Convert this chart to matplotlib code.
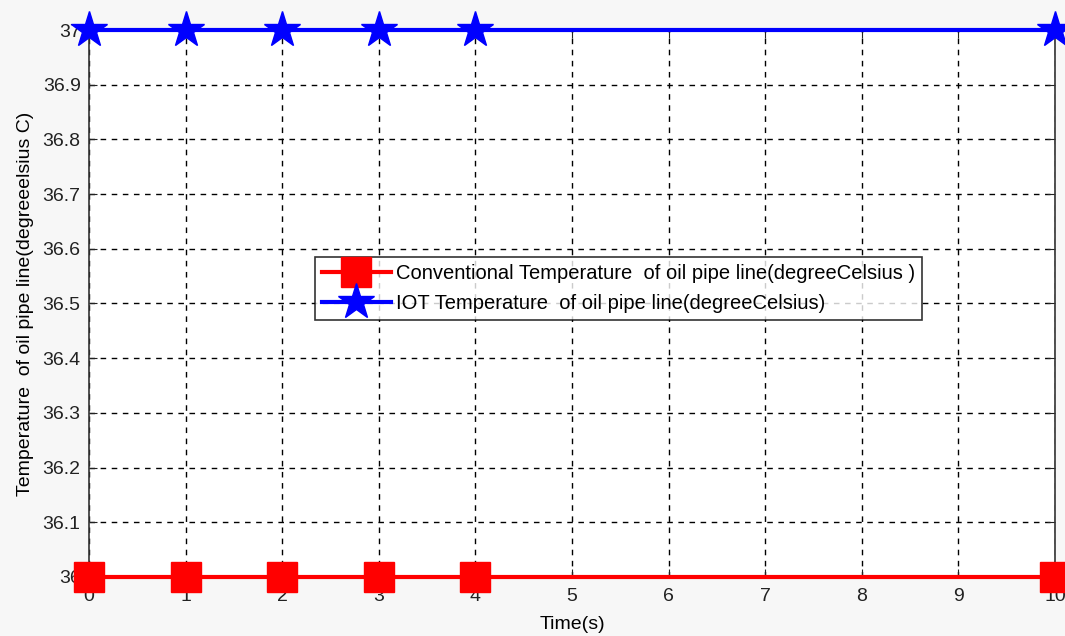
import matplotlib.pyplot as plt
import numpy as np

plt.rcParams['font.family'] = ['Liberation Sans', 'DejaVu Sans']

# data
timeS = [0, 1, 2, 3, 4, 10]
convTemp = [36, 36, 36, 36, 36, 36]
iotTemp = [37, 37, 37, 37, 37, 37]
xTicks = list(range(0, 11))
yTicks = [36, 36.1, 36.2, 36.3, 36.4, 36.5, 36.6, 36.7, 36.8, 36.9, 37]
yTickLabels = ['36', '36.1', '36.2', '36.3', '36.4', '36.5', '36.6', '36.7', '36.8', '36.9', '37']

fig = plt.figure(figsize=(10.65, 6.36), dpi=100, facecolor='#f7f7f7')
ax = fig.add_axes([0.0836, 0.0928, 0.907, 0.86])
ax.set_facecolor('white')

ax.plot(timeS, convTemp, color='red', linewidth=3, marker='s', markersize=21,
        label='Conventional Temperature  of oil pipe line(degreeCelsius )', clip_on=False, zorder=5)
ax.plot(timeS, iotTemp, color='blue', linewidth=3, marker='*', markersize=27,
        label='IOT Temperature  of oil pipe line(degreeCelsius)', clip_on=False, zorder=5)

ax.set_xlim(0, 10)
ax.set_ylim(36, 37)
ax.set_xticks(xTicks)
ax.set_yticks(yTicks)
ax.set_yticklabels(yTickLabels)
ax.tick_params(direction='in', length=6, labelsize=14, colors='#222222', top=True, right=True)
ax.tick_params(axis='x', pad=8)
ax.tick_params(axis='y', pad=6)
ax.grid(True, color='black', linestyle=(0, (4, 4)), linewidth=1)
for s in ax.spines.values():
    s.set_color('#333333')
    s.set_linewidth(1.2)

ax.set_xlabel('Time(s)', fontsize=14, labelpad=8)
ax.set_ylabel('Temperature  of oil pipe line(degreeelsius C)', fontsize=14, labelpad=6)

leg = ax.legend(loc='upper left', bbox_to_anchor=(0.234, 0.585), fontsize=14.5,
                frameon=True, fancybox=False, edgecolor='black', handlelength=3.4,
                borderpad=0.35, labelspacing=0.55, handletextpad=0.25, borderaxespad=0)
leg.get_frame().set_linewidth(1.2)
leg.set_zorder(10)

fig.savefig('out.png', dpi=100, facecolor=fig.get_facecolor())
